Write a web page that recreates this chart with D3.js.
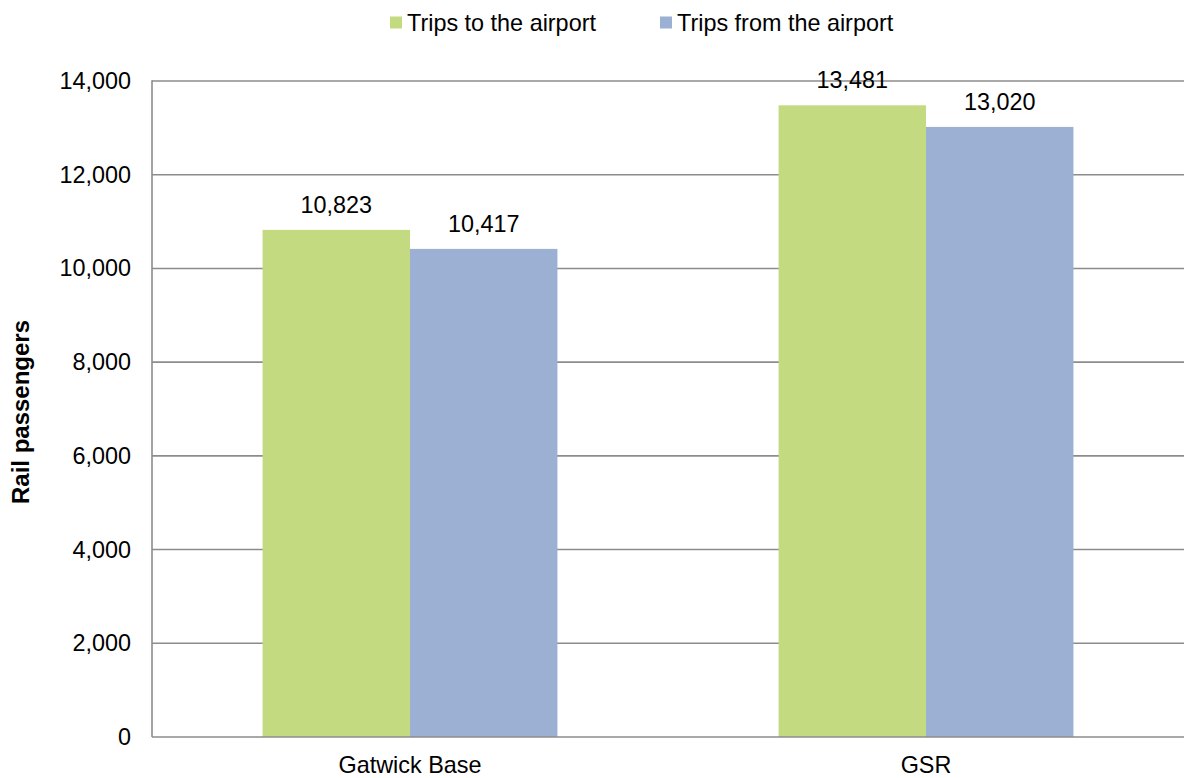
<!DOCTYPE html>
<html>
<head>
<meta charset="utf-8">
<script src="https://cdn.jsdelivr.net/npm/d3@7"></script>
<style>
  html, body { margin: 0; padding: 0; background: #fff; }
  svg { display: block; font-family: "Liberation Sans", Arial, sans-serif; }
</style>
</head>
<body>
<svg id="chart" width="1196" height="778"></svg>
<script>
// Rail passenger trips by scenario
const categories = ["Gatwick Base", "GSR"];
const seriesNames = ["Trips to the airport", "Trips from the airport"];
const tripsToAirport = [10823, 13481];
const tripsFromAirport = [10417, 13020];
const yTicks = [0, 2000, 4000, 6000, 8000, 10000, 12000, 14000];
const seriesColors = ["#C4DA81", "#9BB0D3"];

const svg = d3.select("#chart");
const plot = { left: 152, right: 1184, top: 81, bottom: 737 };
const fontSize = 23.4;
const gridColor = "#8C8C8C";

const x = d3.scaleBand().domain(categories).range([plot.left, plot.right]).paddingInner(0).paddingOuter(0);
// gap width 150% of a single bar: two bars take 2 / 3.5 of each band
const barsWidth = x.bandwidth() * 2 / 3.5;
const xs = d3.scaleBand().domain(seriesNames).range([0, barsWidth]);
const y = d3.scaleLinear().domain([0, 14000]).range([plot.bottom, plot.top]);

// horizontal gridlines
svg.append("g")
  .selectAll("line")
  .data(yTicks.filter(d => d > 0))
  .join("line")
  .attr("x1", plot.left).attr("x2", plot.right)
  .attr("y1", d => y(d)).attr("y2", d => y(d))
  .attr("stroke", gridColor).attr("stroke-width", 1.6);

// y axis labels
const yAxis = d3.axisLeft(y).tickValues(yTicks).tickFormat(d3.format(",")).tickSize(0).tickPadding(21);
const yg = svg.append("g").attr("transform", `translate(${plot.left},0)`).call(yAxis);
yg.select(".domain").remove();
yg.selectAll("text").attr("font-size", fontSize).attr("fill", "#000")
  .attr("font-family", "'Liberation Sans', Arial, sans-serif");

// bars
const rows = categories.map((c, i) => ({ cat: c, values: [tripsToAirport[i], tripsFromAirport[i]] }));
const groups = svg.append("g").selectAll("g")
  .data(rows).join("g")
  .attr("transform", d => `translate(${x(d.cat) + (x.bandwidth() - barsWidth) / 2},0)`);

groups.selectAll("rect")
  .data(d => d.values.map((v, j) => ({ name: seriesNames[j], v, j })))
  .join("rect")
  .attr("x", d => xs(d.name))
  .attr("width", xs.bandwidth())
  .attr("y", d => y(d.v))
  .attr("height", d => y(0) - y(d.v))
  .attr("fill", d => seriesColors[d.j]);

groups.selectAll("text")
  .data(d => d.values.map((v, j) => ({ name: seriesNames[j], v, j })))
  .join("text")
  .attr("x", d => xs(d.name) + xs.bandwidth() / 2)
  .attr("y", d => y(d.v) - 17)
  .attr("text-anchor", "middle")
  .attr("font-size", fontSize)
  .text(d => d3.format(",")(d.v));

// axis lines
svg.append("line")
  .attr("x1", plot.left).attr("x2", plot.left)
  .attr("y1", plot.top - 0.8).attr("y2", plot.bottom)
  .attr("stroke", gridColor).attr("stroke-width", 1.6);
svg.append("line")
  .attr("x1", plot.left).attr("x2", plot.right)
  .attr("y1", plot.bottom).attr("y2", plot.bottom)
  .attr("stroke", gridColor).attr("stroke-width", 1.6);

// category labels
const xAxis = d3.axisBottom(x).tickSize(0).tickPadding(19);
const xg = svg.append("g").attr("transform", `translate(0,${plot.bottom})`).call(xAxis);
xg.select(".domain").remove();
xg.selectAll("text").attr("font-size", fontSize).attr("fill", "#000")
  .attr("font-family", "'Liberation Sans', Arial, sans-serif");

// y axis title
svg.append("text")
  .attr("transform", `translate(29,${(plot.top + plot.bottom) / 2 + 3}) rotate(-90)`)
  .attr("text-anchor", "middle")
  .attr("font-size", 24)
  .attr("font-weight", "bold")
  .text("Rail passengers");

// legend
const legendItems = [
  { name: seriesNames[0], color: seriesColors[0], x: 390 },
  { name: seriesNames[1], color: seriesColors[1], x: 660 }
];
const lg = svg.append("g").selectAll("g").data(legendItems).join("g")
  .attr("transform", d => `translate(${d.x},0)`);
lg.append("rect").attr("x", 0).attr("y", 16.5).attr("width", 12).attr("height", 12)
  .attr("fill", d => d.color);
lg.append("text").attr("x", 17).attr("y", 31).attr("font-size", fontSize).text(d => d.name);
</script>
</body>
</html>
